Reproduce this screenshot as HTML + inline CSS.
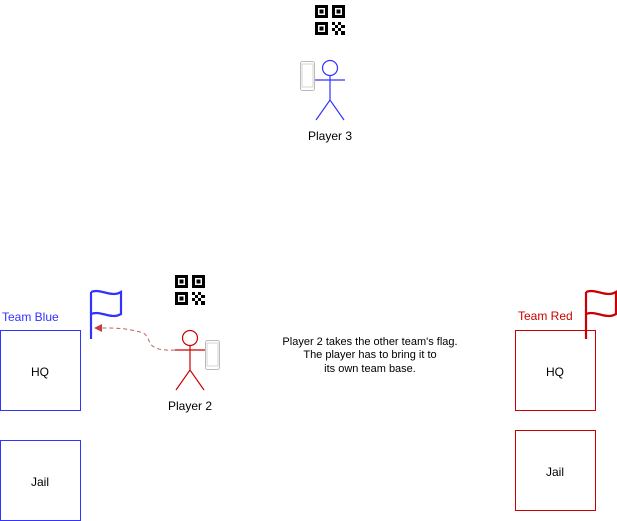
<!DOCTYPE html>
<html><head><style>
html,body{margin:0;padding:0;background:#fff;}
svg{display:block;font-family:"Liberation Sans",sans-serif;}
</style></head><body>
<svg width="617" height="521" viewBox="0 0 617 521" xmlns="http://www.w3.org/2000/svg">
<defs>
<g id="qr">
<rect x="1.5" y="1.5" width="10" height="10" fill="none" stroke="#000" stroke-width="3"/>
<rect x="4.5" y="4.5" width="4" height="4" fill="#000"/>
<rect x="18.5" y="1.5" width="10" height="10" fill="none" stroke="#000" stroke-width="3"/>
<rect x="21.5" y="4.5" width="4" height="4" fill="#000"/>
<rect x="1.5" y="18.5" width="10" height="10" fill="none" stroke="#000" stroke-width="3"/>
<rect x="4.5" y="21.5" width="4" height="4" fill="#000"/>
<rect x="17" y="17" width="3" height="3"/><rect x="23" y="17" width="3" height="3"/>
<rect x="20" y="20" width="3" height="3"/><rect x="26" y="20" width="4" height="3"/>
<rect x="17" y="23" width="3" height="3"/><rect x="23" y="23" width="3" height="3"/>
<rect x="20" y="26" width="3" height="4"/><rect x="26" y="26" width="4" height="4"/>
</g>
<g id="phone">
<rect x="0.5" y="0.5" width="14" height="29" rx="2" fill="#fff" stroke="#bbb" stroke-width="1"/>
<rect x="2" y="3" width="11" height="23" fill="none" stroke="#ccc" stroke-width="0.8"/>
</g>
</defs>

<use href="#qr" x="315" y="5"/>
<use href="#phone" x="300" y="61"/>
<g stroke="#3333ff" stroke-width="1.2" fill="none">
<circle cx="330" cy="68" r="7.5" fill="#fff"/>
<line x1="330" y1="75.5" x2="330" y2="100"/>
<line x1="315" y1="80" x2="345" y2="80"/>
<path d="M316 120 L330 100 L344 120"/>
</g>
<text x="330" y="140" font-size="12" text-anchor="middle">Player 3</text>

<use href="#qr" x="175" y="275"/>
<use href="#phone" x="205" y="340"/>
<g stroke="#cc0000" stroke-width="1.2" fill="none">
<circle cx="190" cy="338" r="7.5" fill="#fff"/>
<line x1="190" y1="345.5" x2="190" y2="370"/>
<line x1="175" y1="350" x2="205" y2="350"/>
<path d="M176 390 L190 370 L204 390"/>
</g>
<text x="190" y="410" font-size="12" text-anchor="middle">Player 2</text>

<path d="M175 350 C140 352 155 335 140 332 C125 328 115 328 102 328" fill="none" stroke="#c06060" stroke-width="1" stroke-dasharray="4 3"/>
<path d="M94 328 L102 324 L102 332 Z" fill="#c04040"/>

<g stroke="#3333ff" stroke-width="2.2" fill="none">
<line x1="91" y1="292" x2="91" y2="339"/>
<path d="M91 292 C101 288 111 298 121 292 L121 314 C111 320 101 310 91 314"/>
</g>
<g stroke="#cc0000" stroke-width="2.2" fill="none">
<line x1="586" y1="292" x2="586" y2="339"/>
<path d="M586 292 C596 288 606 298 616 292 L616 314 C606 320 596 310 586 314"/>
</g>

<text x="2" y="321" font-size="12" fill="#3333ff">Team Blue</text>
<text x="518" y="320" font-size="12" fill="#cc0000">Team Red</text>

<rect x="0.5" y="330.5" width="80" height="80" fill="none" stroke="#3333ff"/>
<text x="40" y="376" font-size="12" text-anchor="middle">HQ</text>
<rect x="0.5" y="440.5" width="80" height="80" fill="none" stroke="#3333ff"/>
<text x="40" y="486" font-size="12" text-anchor="middle">Jail</text>

<rect x="515.5" y="330.5" width="80" height="80" fill="none" stroke="#cc0000"/>
<text x="555" y="376" font-size="12" text-anchor="middle">HQ</text>
<rect x="515.5" y="430.5" width="80" height="80" fill="none" stroke="#cc0000"/>
<text x="555" y="476" font-size="12" text-anchor="middle">Jail</text>

<g font-size="11" text-anchor="middle">
<text x="370" y="345">Player 2 takes the other team's flag.</text>
<text x="370" y="358">The player has to bring it to</text>
<text x="370" y="372">its own team base.</text>
</g>
</svg>
</body></html>
